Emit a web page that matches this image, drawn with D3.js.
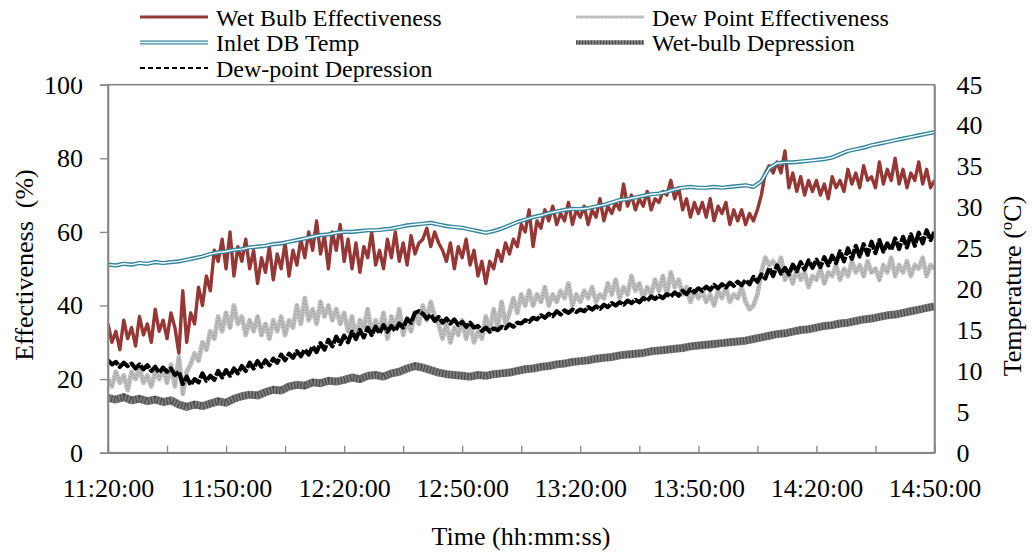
<!DOCTYPE html>
<html>
<head>
<meta charset="utf-8">
<script src="https://cdn.jsdelivr.net/npm/d3@7"></script>
<style>
  html, body { margin: 0; padding: 0; background: #fff; }
  svg { display: block; font-family: "Liberation Serif", "Times New Roman", serif; }
  text { white-space: pre; }
</style>
</head>
<body>
<svg id="chart" width="1034" height="552"></svg>
<script>
// ---------- data ----------
const startTime = "11:20:00";
const noisyStepMinutes = 1;   // effectiveness + dew-point depression samples
const smoothStepMinutes = 2;  // inlet DB temp + wet-bulb depression samples

const xTickLabels = ["11:20:00","11:50:00","12:20:00","12:50:00","13:20:00","13:50:00","14:20:00","14:50:00"];
const minorTickMinutes = 15;
const leftTicks = [0, 20, 40, 60, 80, 100];
const rightTicks = [0, 5, 10, 15, 20, 25, 30, 35, 40, 45];

// Effectiveness (%) - left axis, 1-min samples
const wetBulbEffectiveness = [
  35, 30, 33, 28, 36, 31, 34, 29, 37, 32,
  35, 30, 39, 33, 36, 31, 38, 34, 27, 44,
  30, 38, 35, 45, 40, 48, 44, 55, 52, 58,
  50, 60, 48, 56, 52, 58, 50, 55, 46, 53,
  49, 56, 47, 54, 50, 57, 48, 55, 51, 58,
  53, 60, 55, 63, 54, 59, 50, 60, 55, 62,
  52, 58, 50, 57, 49, 56, 53, 60, 51, 55,
  50, 58, 53, 60, 52, 57, 51, 59, 54, 57,
  58, 61, 56, 60, 57, 55, 52, 57, 50, 56,
  53, 58, 51, 55, 48, 52, 46, 52, 50, 55,
  52, 57, 54, 58, 56, 62, 60, 66, 56, 63,
  61, 66, 63, 67, 62, 65, 63, 68, 62, 66,
  64, 67, 62, 66, 64, 69, 63, 67, 65, 68,
  66, 73, 67, 70, 66, 69, 67, 71, 66, 69,
  68, 71, 70, 74, 69, 72, 66, 69, 64, 68,
  65, 68, 64, 69, 63, 67, 65, 68, 62, 66,
  63, 66, 62, 65, 63, 66, 70, 76, 78, 76,
  79, 76, 82, 72, 76, 71, 75, 70, 74, 71,
  74, 70, 73, 69, 75, 72, 74, 71, 77, 73,
  76, 72, 78, 74, 75, 72, 79, 73, 77, 74,
  80, 73, 77, 72, 76, 74, 79, 73, 77, 72,
  74
];
const dewPointEffectiveness = [
  20, 18, 22, 19, 21, 17, 22, 20, 23, 19,
  21, 18, 22, 20, 23, 19, 24, 18, 26, 16,
  22, 24, 27, 25, 30, 28, 33, 31, 37, 33,
  38, 34, 40, 35, 37, 32, 36, 33, 37, 32,
  35, 31, 36, 33, 37, 32, 36, 34, 40, 35,
  42, 36, 39, 35, 41, 37, 40, 36, 39, 35,
  38, 33, 37, 31, 36, 34, 39, 32, 36, 33,
  38, 31, 37, 34, 39, 32, 36, 33, 38, 35,
  40, 36, 41, 37, 35, 31, 35, 30, 34, 32,
  36, 31, 35, 30, 33, 31, 37, 33, 39, 34,
  41, 35, 38, 42, 38, 43, 40, 44, 40, 43,
  41, 45, 40, 43, 41, 44, 42, 46, 40, 43,
  41, 44, 42, 45, 41, 43, 42, 46, 43, 47,
  42, 45, 43, 48, 44, 46, 42, 45, 43, 47,
  44, 48, 43, 49, 45, 47, 43, 45, 41, 44,
  42, 44, 41, 43, 40, 44, 42, 45, 41, 43,
  42, 45, 41, 39, 40, 43, 49, 53, 51, 52,
  50, 53, 47, 49, 46, 50, 47, 49, 45, 48,
  47, 50, 46, 49, 48, 51, 47, 50, 48, 52,
  49, 51, 48, 52, 49, 50, 47, 51, 49, 53,
  48, 51, 49, 52, 48, 51, 50, 53, 48, 51,
  50
];
// Temperatures (°C) - right axis
const dewPointDepression = [ // 1-min samples
  11.3, 10.8, 11.1, 10.5, 11.0, 10.6, 10.9, 10.3, 10.8, 10.2,
  10.7, 10.0, 10.5, 9.8, 10.4, 9.9, 10.3, 9.5, 9.9, 8.4,
  9.3, 8.3, 9.0, 8.6, 9.7, 8.8, 9.4, 8.9, 10.0, 9.2,
  10.1, 9.4, 10.3, 9.7, 10.6, 10.0, 11.0, 10.3, 11.2, 10.5,
  11.3, 10.7, 11.5, 11.0, 12.0, 11.3, 12.1, 11.6, 12.4, 11.8,
  12.6, 12.0, 13.0, 12.3, 13.4, 12.6, 13.8, 13.0, 14.2, 13.3,
  14.3, 13.5, 14.8, 13.9, 15.0, 14.1, 15.3, 14.4, 15.4, 14.6,
  15.6, 14.8, 15.5, 14.9, 15.8, 15.3, 16.4, 15.9, 17.1, 17.3,
  17.0, 16.4, 16.9, 16.1, 16.6, 15.9, 16.4, 15.8, 16.3, 15.6,
  16.0, 15.4, 15.9, 15.3, 15.5, 14.9, 15.3, 14.8, 15.2, 15.0,
  15.4, 15.2, 15.7, 15.4, 15.9, 15.8, 16.2, 16.0, 16.5, 16.3,
  16.8, 16.5, 17.0, 16.7, 17.3, 16.9, 17.4, 17.1, 17.5, 17.2,
  17.5, 17.3, 17.8, 17.5, 17.9, 17.6, 18.1, 17.8, 18.3, 18.0,
  18.4, 18.1, 18.6, 18.3, 18.7, 18.4, 18.9, 18.6, 19.1, 18.8,
  19.2, 18.9, 19.4, 19.1, 19.6, 19.2, 19.8, 19.4, 20.0, 19.6,
  20.1, 19.8, 20.3, 19.9, 20.5, 20.1, 20.6, 20.2, 20.8, 20.4,
  20.9, 20.5, 21.1, 20.6, 21.5, 20.9, 21.8, 21.3, 22.6, 21.6,
  22.9, 21.9, 22.6, 21.8, 23.0, 22.2, 23.3, 22.4, 23.5, 22.6,
  23.6, 22.7, 23.9, 22.9, 24.1, 23.2, 24.6, 23.4, 25.0, 23.7,
  25.3, 24.0, 25.5, 24.2, 25.8, 24.4, 26.0, 24.6, 25.6, 24.8,
  26.2, 24.9, 26.4, 25.1, 26.7, 25.3, 26.9, 25.6, 27.2, 26.0,
  27.0
];
const inletDBTemp = [ // 2-min samples
  23.0, 22.9, 23.1, 23.0, 23.2, 23.1, 23.3, 23.2, 23.3, 23.4,
  23.6, 23.8, 24.0, 24.3, 24.5, 24.6, 24.8, 24.9, 25.1, 25.2,
  25.3, 25.5, 25.6, 25.8, 26.0, 26.2, 26.4, 26.6, 26.7, 26.9,
  27.0, 27.0, 27.1, 27.2, 27.2, 27.3, 27.4, 27.6, 27.8, 27.9,
  28.0, 28.1, 27.9, 27.7, 27.6, 27.5, 27.3, 27.1, 26.9, 27.1,
  27.4, 27.8, 28.2, 28.5, 28.8, 29.0, 29.3, 29.5, 29.7, 29.8,
  29.8, 29.9, 30.1, 30.3, 30.6, 30.9, 31.0, 31.2, 31.4, 31.6,
  31.7, 31.9, 32.2, 32.4, 32.5, 32.4, 32.4, 32.5, 32.4, 32.5,
  32.6, 32.7, 32.5, 33.2, 34.8, 35.4, 35.5, 35.5, 35.6, 35.7,
  35.8, 35.9, 36.1, 36.5, 36.9, 37.1, 37.3, 37.6, 37.8, 38.0,
  38.2, 38.4, 38.6, 38.8, 39.0, 39.2
];
const wetBulbDepression = [ // 2-min samples
  6.7, 6.5, 6.8, 6.4, 6.6, 6.3, 6.5, 6.2, 6.4, 5.9,
  5.6, 5.9, 5.7, 6.0, 6.3, 6.1, 6.6, 6.9, 7.1, 7.0,
  7.4, 7.7, 7.6, 8.1, 8.3, 8.2, 8.6, 8.5, 8.8, 8.7,
  8.9, 9.2, 9.0, 9.4, 9.5, 9.3, 9.7, 9.9, 10.3, 10.6,
  10.4, 10.1, 9.8, 9.6, 9.5, 9.4, 9.3, 9.5, 9.4, 9.6,
  9.7, 9.8, 10.0, 10.2, 10.3, 10.5, 10.6, 10.8, 10.9, 11.1,
  11.2, 11.3, 11.5, 11.6, 11.7, 11.9, 12.0, 12.1, 12.2, 12.4,
  12.5, 12.6, 12.7, 12.8, 13.0, 13.1, 13.2, 13.3, 13.4, 13.5,
  13.6, 13.7, 13.9, 14.1, 14.3, 14.5, 14.6, 14.8, 15.0, 15.1,
  15.3, 15.5, 15.6, 15.8, 15.9, 16.1, 16.3, 16.4, 16.6, 16.8,
  16.9, 17.1, 17.3, 17.5, 17.7, 17.9
];

// ---------- layout ----------
const svg = d3.select("#chart");
const M = { left: 108, right: 934.5, top: 84.7, bottom: 452.7 };
const axisColor = "#868686";
const parse = d3.utcParse("%Y-%m-%d %H:%M:%S");
const baseDay = "2000-01-01 ";
const t0 = parse(baseDay + startTime);
const tEnd = parse(baseDay + xTickLabels[xTickLabels.length - 1]);
const timeAt = step => (_, i) => d3.utcMinute.offset(t0, i * step);

const x = d3.scaleUtc().domain([t0, tEnd]).range([M.left, M.right]);
const yL = d3.scaleLinear().domain([0, 100]).range([M.bottom, M.top]);
const yR = d3.scaleLinear().domain([0, 45]).range([M.bottom, M.top]);

svg.append("defs").append("clipPath").attr("id", "plotclip")
  .append("rect").attr("x", M.left).attr("y", M.top - 2)
  .attr("width", M.right - M.left).attr("height", M.bottom - M.top + 2);

const plot = svg.append("g").attr("clip-path", "url(#plotclip)");

function lineFor(vals, yScale, step) {
  const tf = timeAt(step);
  return d3.line().x((d, i) => x(tf(d, i))).y(d => yScale(d))(vals);
}
function addPath(vals, yScale, step, attrs) {
  const p = plot.append("path").attr("d", lineFor(vals, yScale, step))
    .attr("fill", "none").attr("stroke-linejoin", "round");
  Object.entries(attrs).forEach(([k, v]) => p.attr(k, v));
  return p;
}

// Wet bulb effectiveness (red)
addPath(wetBulbEffectiveness, yL, noisyStepMinutes, { stroke: "#953735", "stroke-width": 3.4 });
// Dew point effectiveness (light gray textured)
addPath(dewPointEffectiveness, yL, noisyStepMinutes, { stroke: "#bfbfbf", "stroke-width": 4.8 });
addPath(dewPointEffectiveness, yL, noisyStepMinutes, { stroke: "#a3a3a3", "stroke-width": 2.2, "stroke-dasharray": "1 2" });
// Inlet DB temp (teal double line)
addPath(inletDBTemp, yR, smoothStepMinutes, { stroke: "#31859c", "stroke-width": 4.2 });
addPath(inletDBTemp, yR, smoothStepMinutes, { stroke: "#ffffff", "stroke-width": 1.4 });
// Wet-bulb depression (dark gray hatched)
addPath(wetBulbDepression, yR, smoothStepMinutes, { stroke: "#7d7d7d", "stroke-width": 8 });
addPath(wetBulbDepression, yR, smoothStepMinutes, { stroke: "#1e1e1e", "stroke-width": 7, "stroke-dasharray": "1.2 2", opacity: 0.55 });
// Dew-point depression (black, dashes merge into a bold noisy trace)
addPath(dewPointDepression, yR, noisyStepMinutes, { stroke: "#000", "stroke-width": 4.2, "stroke-dasharray": "14 1.2" });

// ---------- frame & axes ----------
svg.append("rect").attr("x", M.left).attr("y", M.top)
  .attr("width", M.right - M.left).attr("height", M.bottom - M.top)
  .attr("fill", "none").attr("stroke", axisColor).attr("stroke-width", 1.6);

const fontSize = 26;

const gL = svg.append("g").attr("transform", `translate(${M.left},0)`)
  .call(d3.axisLeft(yL).tickValues(leftTicks).tickSize(8).tickPadding(17).tickFormat(d3.format("d")));
const gR = svg.append("g").attr("transform", `translate(${M.right},0)`)
  .call(d3.axisRight(yR).tickValues(rightTicks).tickSize(0).tickPadding(22).tickFormat(d3.format("d")));

// minor ticks every 15 minutes counted from the first time label
const totalMinutes = d3.utcMinute.count(t0, tEnd);
const minorTimes = d3.range(0, totalMinutes + 1, minorTickMinutes).map(m => d3.utcMinute.offset(t0, m));
const fmt = d3.utcFormat("%H:%M:%S");
const labelSet = new Set(xTickLabels);
const gB = svg.append("g").attr("transform", `translate(0,${M.bottom})`)
  .call(d3.axisBottom(x).tickValues(minorTimes).tickSizeInner(-7).tickSizeOuter(0).tickPadding(26)
    .tickFormat(d => labelSet.has(fmt(d)) ? fmt(d) : ""));

[gL, gR, gB].forEach(g => {
  g.select(".domain").attr("stroke", axisColor).attr("stroke-width", 1.6);
  g.selectAll(".tick line").attr("stroke", axisColor).attr("stroke-width", 1.3);
  g.selectAll(".tick text").attr("fill", "#000")
    .attr("font-family", '"Liberation Serif", "Times New Roman", serif').attr("font-size", fontSize);
});

// axis titles
svg.append("text").attr("transform", "translate(33,265) rotate(-90)")
  .attr("text-anchor", "middle").attr("font-size", fontSize).text("Effectiveness  (%)");
const tt = svg.append("text").attr("transform", "translate(1021,286) rotate(-90)")
  .attr("text-anchor", "middle").attr("font-size", fontSize);
tt.append("tspan").text("Temperature (");
tt.append("tspan").attr("font-size", 17).attr("dy", -9).text("o");
tt.append("tspan").attr("dy", 9).text("C)");
svg.append("text").attr("x", 521).attr("y", 545)
  .attr("text-anchor", "middle").attr("font-size", fontSize).text("Time (hh:mm:ss)");

// ---------- legend ----------
const legend = svg.append("g");
legend.append("rect").attr("x", 76).attr("y", 0).attr("width", 830).attr("height", 79.5).attr("fill", "#fff");

const legendItems = [
  { name: "Wet Bulb Effectiveness", col: 0, row: 0, kind: "red" },
  { name: "Dew Point Effectiveness", col: 1, row: 0, kind: "gray" },
  { name: "Inlet DB Temp", col: 0, row: 1, kind: "teal" },
  { name: "Wet-bulb Depression", col: 1, row: 1, kind: "wbd" },
  { name: "Dew-point Depression", col: 0, row: 2, kind: "dpd" }
];
const colX = [140, 576];
const rowY = [17, 42.5, 68];
legendItems.forEach(it => {
  const x0 = colX[it.col], x1 = x0 + 68, y0 = rowY[it.row];
  const g = legend.append("g");
  const seg = () => g.append("line").attr("x1", x0).attr("x2", x1).attr("y1", y0).attr("y2", y0);
  if (it.kind === "red") seg().attr("stroke", "#953735").attr("stroke-width", 3.2);
  if (it.kind === "gray") {
    seg().attr("stroke", "#c8c8c8").attr("stroke-width", 3);
    seg().attr("stroke", "#a6a6a6").attr("stroke-width", 1.6).attr("stroke-dasharray", "1 1.5");
  }
  if (it.kind === "teal") {
    seg().attr("stroke", "#31859c").attr("stroke-width", 4);
    seg().attr("stroke", "#fff").attr("stroke-width", 1.4);
  }
  if (it.kind === "wbd") {
    seg().attr("stroke", "#7d7d7d").attr("stroke-width", 4.5);
    seg().attr("stroke", "#1e1e1e").attr("stroke-width", 4).attr("stroke-dasharray", "1 2").attr("opacity", 0.55);
  }
  if (it.kind === "dpd") seg().attr("stroke", "#000").attr("stroke-width", 2.2).attr("stroke-dasharray", "5 3");
  g.append("text").attr("x", x1 + 8).attr("y", y0 + 8.5).attr("font-size", 24).text(it.name);
});
</script>
</body>
</html>
